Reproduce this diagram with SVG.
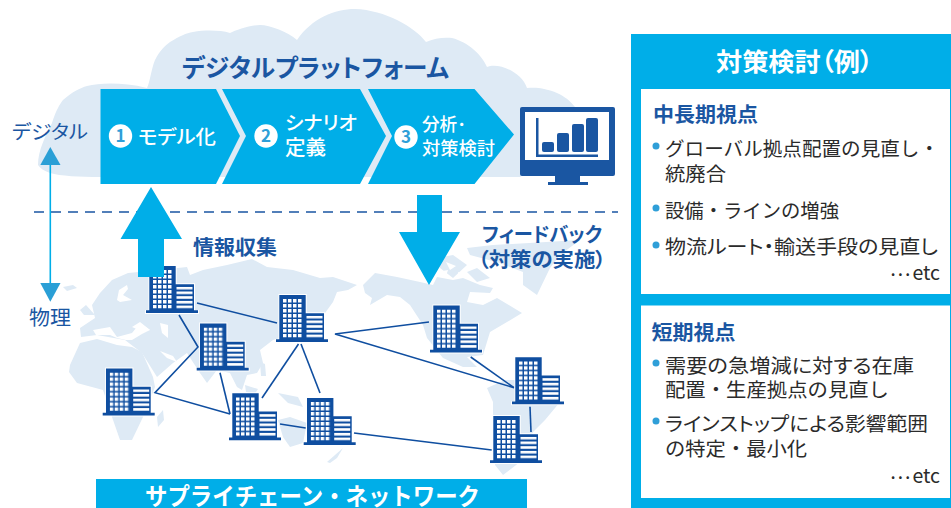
<svg xmlns="http://www.w3.org/2000/svg" width="951" height="508" viewBox="0 0 951 508">
<style>
text{font-family:"Noto Sans CJK JP","Noto Sans",sans-serif;font-feature-settings:"palt"}
.np{font-feature-settings:normal}
.navy{fill:#1a56a2}
.cy{fill:#00aee8}
.map{fill:#deeaf5}
.w{fill:#fff}
.step{fill:#fff;font-size:18px;font-weight:500}
.num{font-size:17px;font-weight:700;fill:#2f9fd8;text-anchor:middle}
.body{fill:#2b2b2b;font-size:19.5px}
.head{fill:#1a56a2;font-size:20px;font-weight:700}
.bul{fill:#2f9fd8}
.lnk{fill:none;stroke:#0f4ea0;stroke-width:1.6}
.etc{fill:#2b2b2b;font-size:19.5px;text-anchor:end}
</style>
<defs>
<pattern id="win" patternUnits="userSpaceOnUse" x="7" y="4" width="5" height="5"><rect width="3.500" height="3.500" fill="#fff"/></pattern>
<pattern id="str" patternUnits="userSpaceOnUse" x="30" y="20.800" width="17" height="4.700"><rect width="17" height="2.600" fill="#fff"/></pattern>
<g id="b">
<path d="M2.500 -1H30.700V17.300H49V44H53V48H-1V44H2.500Z" fill="#fff"/>
<path d="M3.300 0H29.700V18.300H48V44.300H52V47H0V44.300H3.300Z" fill="#0f4ea0"/>
<rect x="7" y="4" width="19.500" height="38.500" fill="url(#win)"/>
<rect x="30.500" y="20.800" width="16" height="22" fill="url(#str)"/>
</g>
</defs>
<rect width="951" height="508" fill="#fff"/>
<g id="cloud">
<path class="map" d="M38 165C38 150 46 135 52 123C56 110 60 104 63 100C72 92 80 88 87 86C100 83 122 82 147 88C150 82 151 70 155 60C160 50 165 46 170 42C180 36 186 33 193 32C205 30 220 30 230 33C236 30 250 25 260 25C270 25 288 32 297 40C312 18 335 9 355 9C385 10 415 27 426 42C434 38 445 37 452 38C468 42 482 55 487 67C498 62 522 72 527 88C545 86 566 94 575 107L590 135L520 177L100 177C80 177 60 176 50 173C44 171 40 168 38 165Z"/>
</g>
<g id="world-map">
<path class="map" d="M100 293L112 280L128 273L150 271L187 267L190 275L203 270L227 265L252 259L267 267L293 270L320 278L333 277L357 285L348 290L337 292L333 302L320 320L290 335L273 340L260 350L263 363L257 373L247 375L242 390L237 387L230 373L217 370L207 383L200 373L187 353L173 363L157 377L142 353L125 340L97 335L81 337L80 328L95 318L92 305Z"/>
<path fill="#fff" d="M93 330L110 327L117 337L132 333L140 323L150 330L142 334L132 340L126 340L117 338L110 335L96 335Z"/>
<path fill="#fff" d="M132 327L140 322L150 330L141 331Z"/>
<path fill="#fff" d="M160 323L168 325L168 338L162 333Z"/>
<path fill="#fff" d="M160 351L173 356L177 362L167 358Z"/>
<path fill="#fff" d="M117 300L119 290L127 285L128 289L123 295L132 300L120 302Z"/>
<path class="map" d="M70 365L80 343L97 339L117 345L132 347L142 352L153 377L155 387L143 417L132 440L120 440L112 417L103 390L77 383L69 372Z"/>
<path class="map" d="M157 417L163 410L164 420L158 427Z"/>
<path class="map" d="M80 310L86 305L95 315L84 315Z"/>
<path class="map" d="M63 287L73 285L77 288L67 291Z"/>
<path class="map" d="M260 362L265 364L266 376L261 376Z"/>
<path class="map" d="M278 393L298 397L303 407L288 403Z"/>
<path class="map" d="M245 385L258 389L254 395L246 392Z"/>
<path class="map" d="M278 420L290 417L307 423L303 443L290 447L283 437Z"/>
<path class="map" d="M327 462L343 448L337 458L330 463Z"/>
<path class="map" d="M363 285L375 273L397 277L420 282L433 285L437 277L453 280L463 278L480 285L493 288L490 293L470 292L467 302L483 305L497 298L522 313L507 322L490 332L483 355L467 357L477 367L463 367L443 358L427 338L423 325L410 305L400 297L387 295L370 305L372 298L365 293Z"/>
<path class="map" d="M437 258L453 255L467 265L453 278L440 268Z"/>
<path class="map" d="M467 272L477 268L490 278L477 282Z"/>
<path fill="#fff" d="M446 262L456 266L450 270ZM437 272L448 270L446 276ZM458 272L466 276L458 277Z"/>
<path class="map" d="M467 248L493 245L580 240L560 255L550 268L537 295L523 285L523 272L500 263L470 255Z"/>
<path class="map" d="M487 388L505 380L520 380L545 395L560 402L545 420L533 432L520 462L503 475L495 465L493 418L493 402Z"/>
</g>
<g id="dash-line"><path d="M34 212H618" fill="none" stroke="#1a56a2" stroke-width="1.600" stroke-dasharray="10 7"/></g>
<g id="step-1"><path class="cy" d="M100.500 89H216L240 136L216 184H100.500Z"/><circle cx="120.500" cy="136" r="11.700" class="w"/><text x="120.500" y="142" class="num">1</text><text x="138" y="144" class="step" textLength="78" lengthAdjust="spacingAndGlyphs" style="font-size:19px">モデル化</text></g>
<g id="step-2"><path class="cy" d="M222 89H360L386 136L360 184H222L246 136Z"/><circle cx="266" cy="136" r="11.700" class="w"/><text x="266" y="142" class="num">2</text><text x="285" y="130" class="step" textLength="72" lengthAdjust="spacingAndGlyphs" style="font-size:19px">シナリオ</text><text x="285" y="155" class="step" textLength="41" lengthAdjust="spacingAndGlyphs" style="font-size:20px">定義</text></g>
<g id="step-3"><path class="cy" d="M368 89H474.500L514 134.500L474.500 184H368L392 136Z"/><circle cx="406" cy="137" r="11.700" class="w"/><text x="406" y="143" class="num">3</text><text x="422" y="131" class="step" textLength="44" lengthAdjust="spacingAndGlyphs">分析･</text><text x="422" y="155" class="step" textLength="73" lengthAdjust="spacingAndGlyphs">対策検討</text></g>
<g id="monitor">
<rect x="520" y="107" width="95" height="69" rx="2" fill="#1a56a2"/>
<rect x="525" y="112" width="84" height="48" fill="#fff"/>
<path fill="#1a56a2" d="M555 176H580V182H588V185H548V182H555Z"/>
<path fill="#1a56a2" d="M536 118H538.500V154.500H598V157H536Z"/>
<rect x="542" y="142" width="12" height="10" rx="2" fill="#1a56a2"/>
<rect x="557" y="133" width="12" height="19" rx="2" fill="#1a56a2"/>
<rect x="572" y="124" width="12" height="28" rx="2" fill="#1a56a2"/>
<rect x="586" y="118" width="12" height="34" rx="2" fill="#1a56a2"/>
</g>
<g id="labels-top">
<text x="182" y="77" font-size="24.500" font-weight="700" class="navy" textLength="267" lengthAdjust="spacingAndGlyphs">デジタルプラットフォーム</text>
<text x="12" y="139" font-size="19" class="navy" textLength="76" lengthAdjust="spacingAndGlyphs">デジタル</text>
<text x="29" y="325" font-size="20" class="navy" textLength="42" lengthAdjust="spacingAndGlyphs">物理</text>
</g>
<g id="updown">
<path d="M50.300 160V290" stroke="#00aee8" stroke-width="1.600" fill="none"/>
<path d="M50.300 147L60.500 165H40.300Z" fill="#2a9fd6"/>
<path d="M40.300 283H60.500L50.300 301.700Z" fill="#2a9fd6"/>
</g>
<g id="connectors" class="lnk">
<path d="M197 303L277 323"/>
<path d="M179 315L198 347L155 392.700L230 414"/>
<path d="M220 372.700L230 414"/>
<path d="M298.500 344L262 398"/>
<path d="M301 344L320 393"/>
<path d="M280 424L305.700 428"/>
<path d="M354 433L491.700 450"/>
<path d="M429 322L335 334L514 387.700"/>
<path d="M470.700 357L514 387.700"/>
<path d="M530 406.700L531 432"/>
</g>
<g id="buildings">
<use id="b1" href="#b" x="146" y="266"/>
<use id="b2" href="#b" x="196.700" y="323.500"/>
<use id="b3" href="#b" x="276" y="295"/>
<use id="b4" href="#b" x="102.700" y="368.500"/>
<use id="b5" href="#b" x="229" y="393.300"/>
<use id="b6" href="#b" x="303.700" y="398"/>
<use id="b7" href="#b" x="430" y="305.500"/>
<use id="b8" href="#b" x="512" y="357.300"/>
<use id="b9" href="#b" x="490" y="416"/>
</g>
<g id="arrows">
<path class="cy" d="M151 187L182 239H164V277H138V239H120.500Z"/>
<path class="cy" d="M417 195H442V232H460L429 285L399 232H417Z"/>
</g>
<g id="labels-mid">
<text x="193" y="255" font-size="20" font-weight="700" class="navy" textLength="84" lengthAdjust="spacingAndGlyphs">情報収集</text>
<text x="482" y="242" font-size="20" font-weight="700" class="navy" textLength="120" lengthAdjust="spacingAndGlyphs">フィードバック</text>
<text x="478" y="267" font-size="20" font-weight="700" class="navy" textLength="128" lengthAdjust="spacingAndGlyphs">（対策の実施）</text>
</g>
<g id="network-bar">
<rect x="96" y="479" width="431" height="29" class="cy"/>
<text x="145" y="505" font-size="24" font-weight="700" fill="#fff" class="np" textLength="335" lengthAdjust="spacingAndGlyphs">サプライチェーン・ネットワーク</text>
</g>
<g id="panel">
<rect x="631" y="34" width="320" height="474" class="cy"/>
<text x="716" y="71" font-size="25" font-weight="700" fill="#fff" textLength="157" lengthAdjust="spacingAndGlyphs">対策検討（例）</text>
<rect x="641" y="89" width="309" height="205" class="w"/>
<rect x="641" y="305.500" width="309" height="192.500" class="w"/>
<text x="653" y="122" class="head" textLength="105" lengthAdjust="spacingAndGlyphs">中長期視点</text>
<circle cx="656" cy="146" r="3.500" class="bul"/>
<text x="665" y="156" class="body np" textLength="274" lengthAdjust="spacingAndGlyphs">グローバル拠点配置の見直し・</text>
<text x="665" y="181" class="body" textLength="61" lengthAdjust="spacingAndGlyphs">統廃合</text>
<circle cx="656" cy="208" r="3.500" class="bul"/>
<text x="665" y="218" class="body np" textLength="174" lengthAdjust="spacingAndGlyphs">設備・ラインの増強</text>
<circle cx="656" cy="245" r="3.500" class="bul"/>
<text x="665" y="254" class="body" textLength="273" lengthAdjust="spacingAndGlyphs">物流ルート・輸送手段の見直し</text>
<text x="940" y="280" class="etc"><tspan dy="-4" letter-spacing="2">…</tspan><tspan dy="4">etc</tspan></text>
<text x="651.500" y="340" class="head" textLength="84" lengthAdjust="spacingAndGlyphs">短期視点</text>
<circle cx="656" cy="363" r="3.500" class="bul"/>
<text x="665" y="373" class="body" textLength="249" lengthAdjust="spacingAndGlyphs">需要の急増減に対する在庫</text>
<text x="665" y="397" class="body np" textLength="224" lengthAdjust="spacingAndGlyphs">配置・生産拠点の見直し</text>
<circle cx="656" cy="421" r="3.500" class="bul"/>
<text x="665" y="431" class="body" textLength="263" lengthAdjust="spacingAndGlyphs">ラインストップによる影響範囲</text>
<text x="665" y="456" class="body np" textLength="142" lengthAdjust="spacingAndGlyphs">の特定・最小化</text>
<text x="940" y="483" class="etc"><tspan dy="-4" letter-spacing="2">…</tspan><tspan dy="4">etc</tspan></text>
</g>
</svg>
